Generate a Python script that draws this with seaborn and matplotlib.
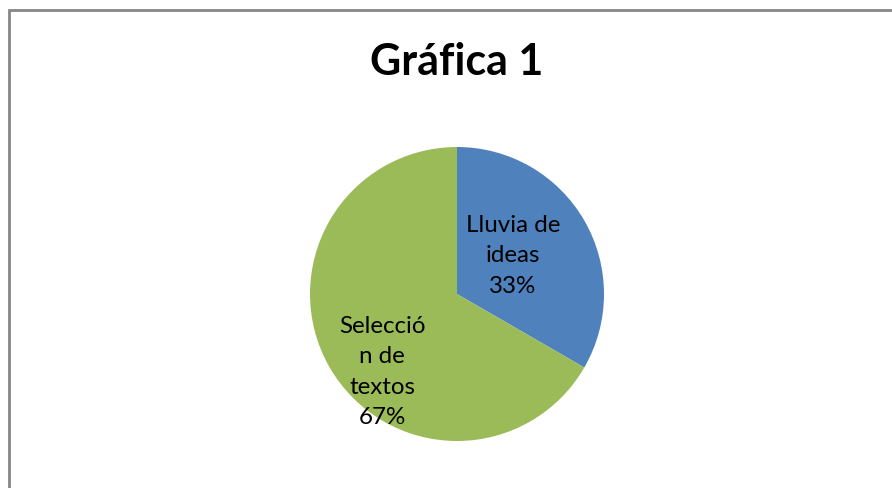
import matplotlib
matplotlib.use("Agg")
import matplotlib.pyplot as plt
import seaborn as sns
from matplotlib.patches import Rectangle

# data
categories = ["Lluvia de ideas", "Selección de textos"]
values = [1, 2]
label_lines = ["Lluvia de\nideas", "Selecció\nn de\ntextos"]
title = "Gráfica 1"

sns.set_theme(style="white")
plt.rcParams["font.family"] = ["Lato", "DejaVu Sans"]
colors = ["#4F81BD", "#9BBB59"]

W, H = 892, 488
fig = plt.figure(figsize=(W / 100, H / 100), dpi=100)
fig.patch.set_facecolor("white")

# outer chart border (only top/left visible in the crop)
fig.patches.append(Rectangle((8.5 / W, -0.2), 1.2, 1.2 - 10 / H,
                             transform=fig.transFigure, fill=False,
                             edgecolor="#868686", linewidth=2))

cx, cy, r = 457, 294, 147
ax = fig.add_axes([(cx - r) / W, (H - cy - r) / H, 2 * r / W, 2 * r / H])
wedges, _ = ax.pie(values, colors=colors, startangle=90, counterclock=False,
                   radius=1, wedgeprops=dict(linewidth=0))
ax.set_xlim(-1, 1)
ax.set_ylim(-1, 1)
ax.set_aspect("equal")
ax.axis("off")

total = sum(values)
label_pos = [(0.38, 0.26), (-0.51, -0.53)]
for txt, v, (x, y) in zip(label_lines, values, label_pos):
    ax.text(x, y, f"{txt}\n{v / total:.0%}", ha="center", va="center",
            fontsize=17.4, color="black", linespacing=1.55)

fig.text(457 / W, 1 - 62 / H, title, ha="center", va="center",
         fontsize=31, fontweight="bold", color="black")

fig.savefig("out.png", dpi=100, facecolor="white")
